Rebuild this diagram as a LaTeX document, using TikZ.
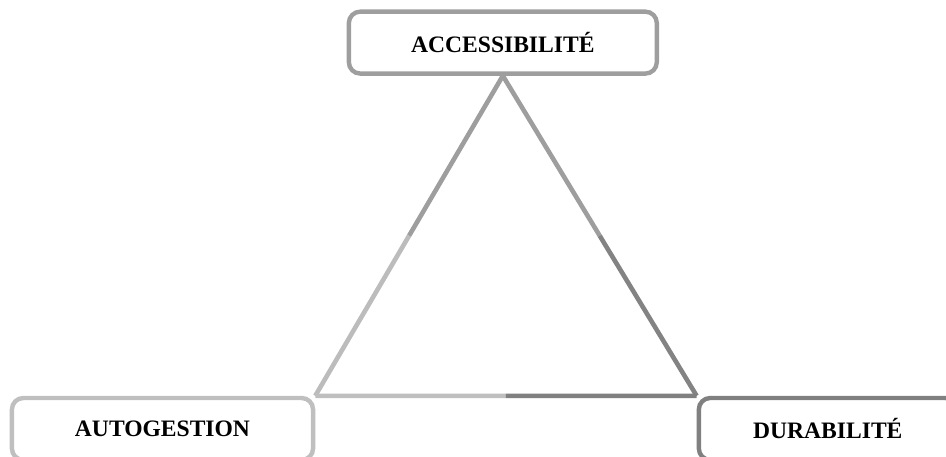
\documentclass[tikz,border=0pt]{standalone}
\usepackage{fontspec}
\setmainfont{Liberation Serif}
\usetikzlibrary{calc}

\definecolor{SideLight}{gray}{0.75}
\definecolor{SideMid}{gray}{0.62}
\definecolor{SideDark}{gray}{0.50}
\tikzstyle{pillar-base}=[rectangle,
                         line width=2.2pt,
                         rounded corners=0.2cm,
                         text centered,
                         font=\fontsize{11.8}{14}\selectfont\bfseries,
                         minimum height=1.09cm
                        ]
\tikzstyle{pillar}=[pillar-base, draw=SideMid, minimum width=5.42cm]
\tikzstyle{side}=[line width=2.3pt]

\begin{document}
\begin{tikzpicture}
\path[use as bounding box, clip] (0cm, 0cm) rectangle (16.65cm, 8.04cm);

\node at (8.85cm, 7.29cm) (accessibilite) [pillar] {ACCESSIBILIT\'E};
\node at (2.86cm, 0.49cm) (autogestion) [pillar, draw=SideLight, minimum width=5.30cm] {AUTOGESTION};
\node at (14.57cm, 0.49cm) (durabilite) [pillar, draw=SideDark, minimum width=4.54cm] {DURABILIT\'E};

  % middle points of the three sides
  \coordinate (left_mid) at ($(accessibilite.south)!0.5!(autogestion.north east)$);
  \coordinate (right_mid) at ($(accessibilite.south)!0.5!(durabilite.north west)$);
  \coordinate (base_mid) at ($(autogestion.north east)!0.5!(durabilite.north west)$);

\draw[side, SideMid] (accessibilite.south) -- (left_mid);
\draw[side, SideLight!90!SideMid] (left_mid) -- (autogestion.north east);
\draw[side, SideMid] (accessibilite.south) -- (right_mid);
\draw[side, SideDark!90!SideMid] (right_mid) -- (durabilite.north west);
\draw[side, SideLight] (autogestion.north east) -- (base_mid);
\draw[side, SideDark] (base_mid) -- (durabilite.north west);

\end{tikzpicture}
\end{document}
